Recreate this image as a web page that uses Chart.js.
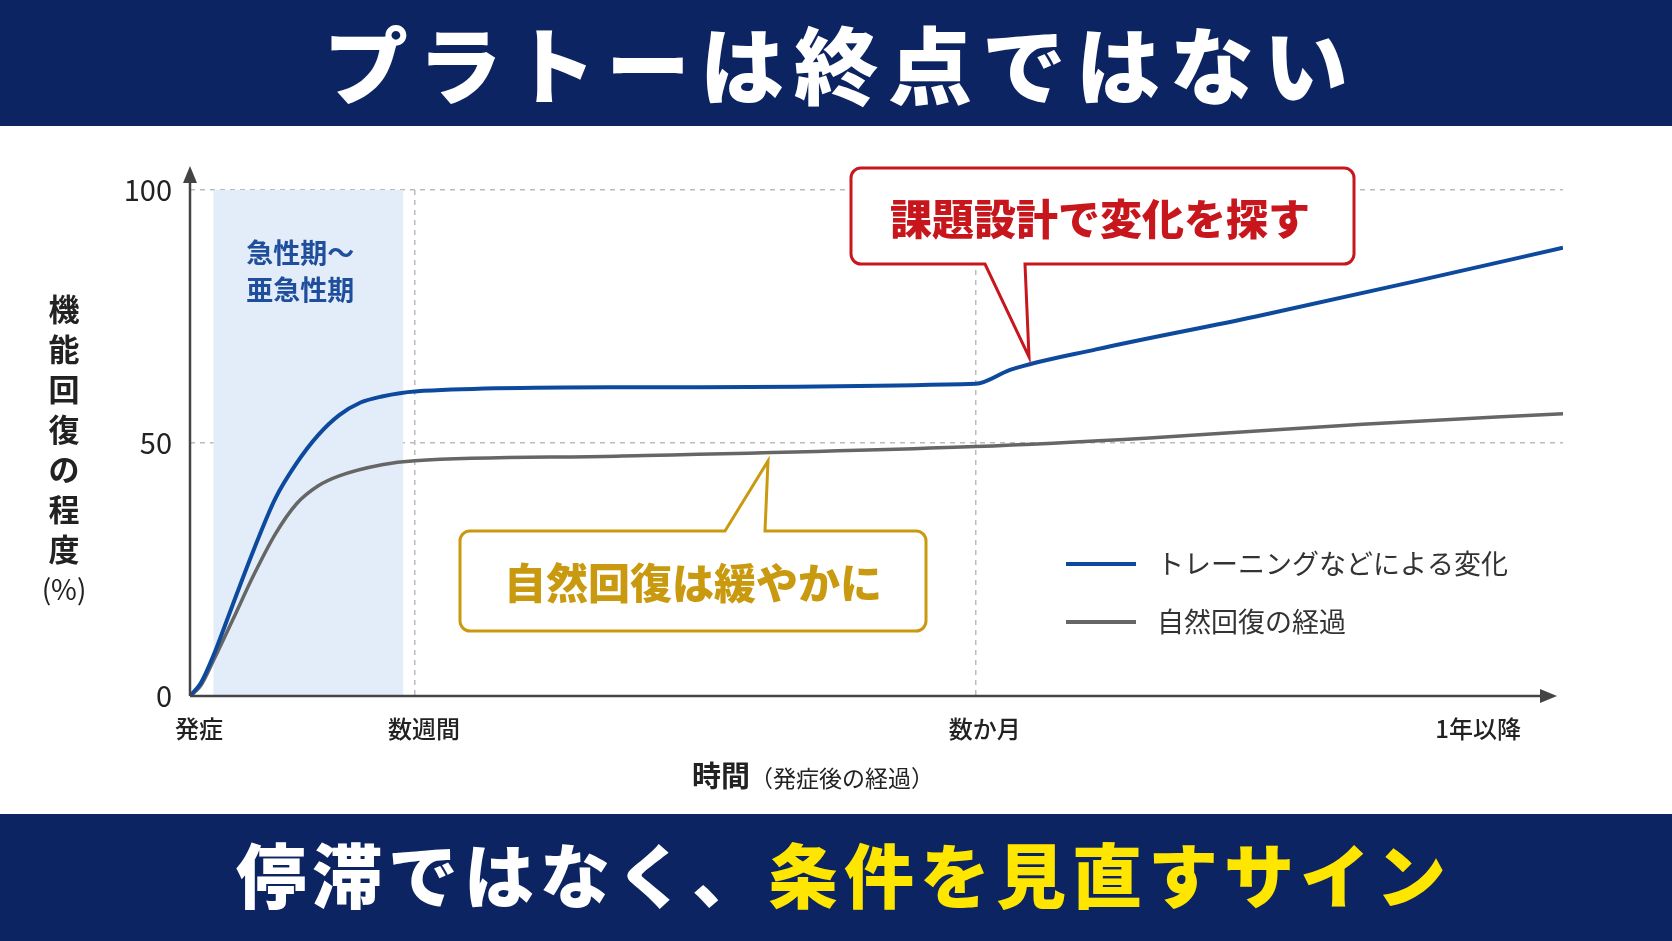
<!DOCTYPE html>
<html><head><meta charset="utf-8">
<script src="https://cdn.jsdelivr.net/npm/chart.js@4"></script>
<style>html,body{margin:0;padding:0;background:#fff}#w{width:1672px;height:941px}</style>
</head><body><div id="w"><canvas id="c"></canvas></div>
<script>
const title = "プラトーは終点ではない";
const footerWhite = "停滞ではなく、";
const footerYellow = "条件を見直すサイン";
const xTickValues = [0, 211, 737, 1200];
const xTickLabels = ["発症", "数週間", "数か月", "1年以降"];
const yTickValues = [0, 50, 100];
const trainX = [0, 10, 22, 40, 60, 80, 100, 120, 140, 160, 180, 211, 400, 737, 770, 850, 1000, 1150, 1288];
const trainY = [0, 2.5, 8, 18, 29, 39, 46, 51.5, 55.5, 58, 59.2, 60.2, 61, 61.7, 64.5, 68.5, 75, 82, 88.6];
const naturalX = [0, 10, 22, 40, 60, 80, 100, 120, 140, 180, 211, 400, 737, 900, 1100, 1288];
const naturalY = [0, 2, 7, 15, 24, 32, 38, 41.5, 43.5, 45.7, 46.5, 47.4, 49.3, 51, 53.7, 55.8];
const seriesNames = ["トレーニングなどによる変化", "自然回復の経過"];
const phase = [22, 200];
const phaseLabel = ["急性期～", "亜急性期"];
const yTitle = ["機","能","回","復","の","程","度","(%)"];
const F = '"Noto Sans CJK JP", sans-serif';
const BLUE = "#0d4a9e", GRAY = "#666666", NAVY = "#0c2461";

function pts(xs, ys){ return xs.map((x,i)=>({x, y: ys[i]})); }

function box(ctx, x, y, w, h, r, tip, color){
  ctx.beginPath();
  ctx.moveTo(x+r, y);
  if (tip.side==="top"){ ctx.lineTo(tip.a, y); ctx.lineTo(tip.tx, tip.ty); ctx.lineTo(tip.b, y); }
  ctx.lineTo(x+w-r, y); ctx.arcTo(x+w, y, x+w, y+r, r);
  ctx.lineTo(x+w, y+h-r); ctx.arcTo(x+w, y+h, x+w-r, y+h, r);
  if (tip.side==="bottom"){ ctx.lineTo(tip.b, y+h); ctx.lineTo(tip.tx, tip.ty); ctx.lineTo(tip.a, y+h); }
  ctx.lineTo(x+r, y+h); ctx.arcTo(x, y+h, x, y+h-r, r);
  ctx.lineTo(x, y+r); ctx.arcTo(x, y, x+r, y, r);
  ctx.closePath();
  ctx.fillStyle="#fff"; ctx.fill();
  ctx.lineWidth=3; ctx.strokeStyle=color; ctx.stroke();
}

const deco = {
  id:"deco",
  beforeDatasetsDraw(ch){
    const {ctx, scales:{x,y}} = ch;
    ctx.save();
    ctx.fillStyle="#e3edf9";
    ctx.fillRect(x.getPixelForValue(phase[0]), y.getPixelForValue(100), x.getPixelForValue(phase[1])-x.getPixelForValue(phase[0]), y.getPixelForValue(0)-y.getPixelForValue(100));
    ctx.fillStyle="#1f4e9c"; ctx.font="bold 27px "+F; ctx.textAlign="center"; ctx.textBaseline="middle";
    const cx=(x.getPixelForValue(phase[0])+x.getPixelForValue(phase[1]))/2-8;
    ctx.fillText(phaseLabel[0], cx, 253); ctx.fillText(phaseLabel[1], cx, 290);
    ctx.restore();
  },
  afterDraw(ch){
    const {ctx, scales:{x,y}} = ch;
    const W=ch.width;
    ctx.save();
    ctx.fillStyle=NAVY; ctx.fillRect(0,0,W,126); ctx.fillRect(0,814,W,127);
    ctx.textBaseline="middle"; ctx.textAlign="center";
    ctx.fillStyle="#fff"; ctx.font="900 84px "+F;
    ctx.letterSpacing="10px";
    ctx.fillText(title, W/2+5, 66);
    ctx.font="900 70px "+F;
    ctx.letterSpacing="6px";
    const w1=ctx.measureText(footerWhite).width, w2=ctx.measureText(footerYellow).width;
    const sx=W/2-(w1+w2)/2+8;
    ctx.textAlign="left";
    ctx.fillText(footerWhite, sx, 876);
    ctx.fillStyle="#ffe600"; ctx.fillText(footerYellow, sx+w1, 876);
    ctx.letterSpacing="0px";
    const x0=x.getPixelForValue(0), y0=y.getPixelForValue(0);
    ctx.strokeStyle="#444"; ctx.fillStyle="#444"; ctx.lineWidth=2.5;
    ctx.beginPath(); ctx.moveTo(x0,y0); ctx.lineTo(1545,y0); ctx.moveTo(x0,y0); ctx.lineTo(x0,178); ctx.stroke();
    ctx.beginPath(); ctx.moveTo(1557,y0); ctx.lineTo(1540,y0-7); ctx.lineTo(1540,y0+7); ctx.fill();
    ctx.beginPath(); ctx.moveTo(x0,166); ctx.lineTo(x0-7,183); ctx.lineTo(x0+7,183); ctx.fill();
    ctx.fillStyle="#222"; ctx.textAlign="center";
    yTitle.forEach((c,i)=>{ ctx.font=(i<7?"bold 31px ":"28px ")+F; ctx.fillText(c, 64, 309+i*40); });
    ctx.font="bold 29px "+F; const t1="時間"; const t2="（発症後の経過）";
    const a=ctx.measureText(t1).width; ctx.font="23px "+F; const b=ctx.measureText(t2).width;
    ctx.textAlign="left"; ctx.font="bold 29px "+F; ctx.fillText(t1, 813-(a+b)/2, 776);
    ctx.font="23px "+F; ctx.fillText(t2, 813-(a+b)/2+a, 778);
    box(ctx, 851,168,503,96,10,{side:"bottom",a:985,b:1025,tx:1029,ty:357},"#c8161d");
    ctx.fillStyle="#c8161d"; ctx.font="900 42px "+F; ctx.textAlign="center"; ctx.fillText("課題設計で変化を探す", 1100, 219);
    box(ctx, 460,531,466,100,10,{side:"top",a:725,b:765,tx:768,ty:461},"#c99a10");
    ctx.fillStyle="#c99a10"; ctx.fillText("自然回復は緩やかに", 693, 583);
    ctx.lineWidth=4;
    [[BLUE,564],[GRAY,622]].forEach(([c,yy],i)=>{
      ctx.strokeStyle=c; ctx.beginPath(); ctx.moveTo(1066,yy); ctx.lineTo(1136,yy); ctx.stroke();
      ctx.fillStyle="#333"; ctx.font="27px "+F; ctx.textAlign="left"; ctx.fillText(seriesNames[i], 1157, yy);
    });
    ctx.restore();
  }
};

new Chart(document.getElementById("c"), {
  type:"line",
  data:{datasets:[
    {label:seriesNames[0], data:pts(trainX,trainY), borderColor:BLUE, borderWidth:4, pointRadius:0, cubicInterpolationMode:"monotone"},
    {label:seriesNames[1], data:pts(naturalX,naturalY), borderColor:GRAY, borderWidth:3.5, pointRadius:0, cubicInterpolationMode:"monotone"}
  ]},
  options:{
    responsive:true, maintainAspectRatio:false, animation:false,
    layout:{padding:{top:190,right:109,left:0,bottom:0}},
    plugins:{legend:{display:false}, tooltip:{enabled:false}},
    scales:{
      x:{type:"linear", min:0, max:1288,
        afterBuildTicks:s=>{s.ticks=xTickValues.map(v=>({value:v}));},
        afterFit:s=>{s.height=245;},
        ticks:{callback:(v)=>xTickLabels[xTickValues.indexOf(v)], color:"#222", font:{family:F,size:24,weight:"500"}, maxRotation:0, padding:18, labelOffset:9},
        grid:{drawTicks:false, color:c=>(c.tick&&(c.tick.value===211||c.tick.value===737))?"#bbb":"transparent", lineWidth:1.5},
        border:{display:false, dash:[5,5]}},
      y:{min:0, max:100,
        afterBuildTicks:s=>{s.ticks=yTickValues.map(v=>({value:v}));},
        afterFit:s=>{s.width=190;},
        ticks:{color:"#222", font:{family:F,size:29}, padding:18},
        grid:{drawTicks:false, color:c=>(c.tick&&c.tick.value>0)?"#bbb":"transparent", lineWidth:1.5},
        border:{display:false, dash:[5,5]}}
    }
  },
  plugins:[deco]
});
</script></body></html>
